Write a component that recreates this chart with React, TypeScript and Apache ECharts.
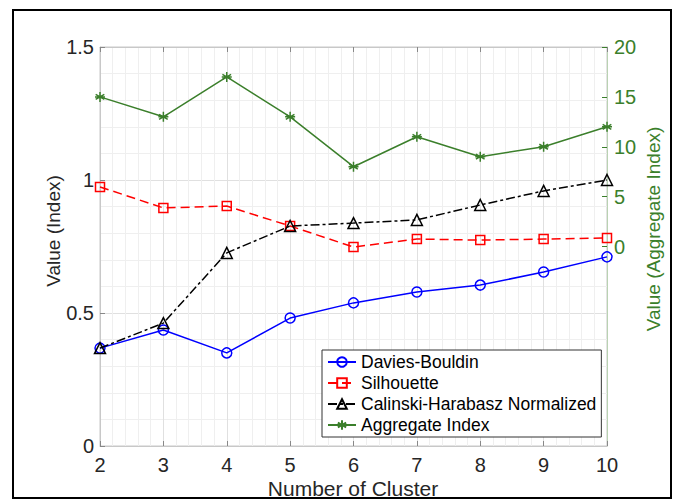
import React, { useEffect, useRef } from "react";
import * as echarts from "echarts";

const clusters = [2, 3, 4, 5, 6, 7, 8, 9, 10];
const daviesBouldin = [0.368, 0.436, 0.35, 0.481, 0.538, 0.579, 0.605, 0.654, 0.711];
const silhouette = [0.974, 0.895, 0.902, 0.827, 0.748, 0.778, 0.774, 0.778, 0.782];
const calinski = [0.368, 0.462, 0.726, 0.827, 0.838, 0.85, 0.906, 0.959, 1.0];
const aggregate = [15, 13, 17, 13, 8, 11, 9, 10, 12];
const rightTicks = [0, 5, 10, 15, 20];

const GREEN = "#3b7f2b";
const FONT = "Liberation Sans, Arial, sans-serif";

const pairs = (vals: number[]) => clusters.map((c, i) => [c, vals[i]]);

export default function App() {
  const ref = useRef<HTMLDivElement>(null);
  useEffect(() => {
    if (!ref.current) return;
    const chart = echarts.init(ref.current, null, { renderer: "svg" });
    const asterisk =
      "path://M0,-5L0,5M-4.33,-2.5L4.33,2.5M-4.33,2.5L4.33,-2.5M-5,0L5,0";
    chart.setOption({
      animation: false,
      backgroundColor: "#fff",
      textStyle: { fontFamily: FONT },
      grid: {
        left: 100,
        right: 69,
        top: 47,
        bottom: 54,
        containLabel: false,
        outerBoundsMode: "none",
        show: true,
        borderColor: "#c8c8c8",
        borderWidth: 1,
        backgroundColor: "transparent",
      },
      legend: {
        orient: "vertical",
        left: 322,
        top: 350,
        padding: [3, 5],
        itemGap: 3,
        itemWidth: 28,
        itemHeight: 12,
        backgroundColor: "#fff",
        borderColor: "#333",
        borderWidth: 1,
        textStyle: { fontSize: 17.5, lineHeight: 18, color: "#000", fontFamily: FONT },
        data: ["Davies-Bouldin", "Silhouette", "Calinski-Harabasz Normalized", "Aggregate Index"],
      },
      xAxis: [
        {
          type: "value",
          min: 2,
          max: 10,
          interval: 1,
          axisLine: { show: true, onZero: false, lineStyle: { color: "#c8c8c8" } },
          axisTick: { show: true, inside: true, length: 5, lineStyle: { color: "#888" } },
          axisLabel: { fontSize: 20, lineHeight: 20, color: "#262626", margin: 9, fontFamily: FONT },
          splitLine: { show: true, lineStyle: { color: "#e0e0e0", width: 1 } },
          minorTick: { show: false, splitNumber: 5 },
          minorSplitLine: { show: true, lineStyle: { color: "#efefef", width: 1 } },
        },
        {
          type: "value",
          position: "top",
          min: 2,
          max: 10,
          interval: 1,
          axisLine: { show: true, onZero: false, lineStyle: { color: "#c8c8c8" } },
          axisTick: { show: true, inside: true, length: 5, lineStyle: { color: "#888" } },
          axisLabel: { show: false },
          splitLine: { show: false },
        },
      ],
      yAxis: [
        {
          type: "value",
          min: 0,
          max: 1.5,
          interval: 0.5,
          axisLine: { show: true, lineStyle: { color: "#c8c8c8" } },
          axisTick: { show: true, inside: true, length: 5, lineStyle: { color: "#888" } },
          axisLabel: { fontSize: 20, color: "#262626", margin: 6, fontFamily: FONT },
          splitLine: { show: true, lineStyle: { color: "#e0e0e0", width: 1 } },
          minorTick: { show: false, splitNumber: 5 },
          minorSplitLine: { show: true, lineStyle: { color: "#efefef", width: 1 } },
        },
        {
          type: "value",
          min: -20,
          max: 20,
          interval: 5,
          position: "right",
          axisLine: { show: true, lineStyle: { color: "#b9d2b2" } },
          axisTick: {
            show: true,
            inside: true,
            length: 5,
            customValues: rightTicks,
            lineStyle: { color: GREEN },
          },
          axisLabel: {
            fontSize: 20,
            color: GREEN,
            margin: 7,
            fontFamily: FONT,
            customValues: rightTicks,
            formatter: (v: number) => (v >= 0 ? String(v) : ""),
          },
          splitLine: { show: false },
        },
      ],
      graphic: [
        {
          type: "rect",
          shape: { x: 13, y: 10, width: 658, height: 488 },
          style: { fill: "none", stroke: "#000", lineWidth: 2 },
          silent: true,
        },
        {
          type: "text",
          x: 53,
          y: 231,
          rotation: Math.PI / 2,
          style: {
            text: "Value (Index)",
            fontSize: 19,
            fill: "#262626",
            fontFamily: FONT,
            align: "center",
            verticalAlign: "middle",
          },
        },
        {
          type: "text",
          x: 353,
          y: 488,
          style: {
            text: "Number of Cluster",
            fontSize: 21,
            lineHeight: 21,
            fill: "#262626",
            fontFamily: FONT,
            align: "center",
            verticalAlign: "middle",
          },
        },
        {
          type: "text",
          x: 653,
          y: 229,
          rotation: Math.PI / 2,
          style: {
            text: "Value (Aggregate Index)",
            fontSize: 19,
            fill: GREEN,
            fontFamily: FONT,
            align: "center",
            verticalAlign: "middle",
          },
        },
      ],
      series: [
        {
          name: "Davies-Bouldin",
          type: "line",
          xAxisIndex: 0,
          yAxisIndex: 0,
          data: pairs(daviesBouldin),
          symbol: "circle",
          symbolSize: 10,
          lineStyle: { color: "#0000ff", width: 1.5 },
          itemStyle: { color: "rgba(255,255,255,0)", borderColor: "#0000ff", borderWidth: 1.5 },
          z: 4,
        },
        {
          name: "Silhouette",
          type: "line",
          xAxisIndex: 0,
          yAxisIndex: 0,
          data: pairs(silhouette),
          symbol: "rect",
          symbolSize: 9,
          lineStyle: { color: "#ff0000", width: 1.5, type: [9, 5] },
          itemStyle: { color: "rgba(255,255,255,0)", borderColor: "#ff0000", borderWidth: 1.5 },
          z: 3,
        },
        {
          name: "Calinski-Harabasz Normalized",
          type: "line",
          xAxisIndex: 0,
          yAxisIndex: 0,
          data: pairs(calinski),
          symbol: "triangle",
          symbolSize: 11,
          lineStyle: { color: "#000000", width: 1.5, type: [9, 3, 3, 3] },
          itemStyle: { color: "rgba(255,255,255,0)", borderColor: "#000000", borderWidth: 1.5 },
          z: 5,
        },
        {
          name: "Aggregate Index",
          type: "line",
          xAxisIndex: 0,
          yAxisIndex: 1,
          data: pairs(aggregate),
          symbol: asterisk,
          symbolSize: 10,
          lineStyle: { color: GREEN, width: 1.5 },
          itemStyle: { color: GREEN, borderColor: GREEN, borderWidth: 1.5 },
          z: 2,
        },
      ],
    });
    return () => chart.dispose();
  }, []);
  return (
    <div
      ref={ref}
      style={{ position: "fixed", left: 0, top: 0, width: 676, height: 500 }}
    />
  );
}
